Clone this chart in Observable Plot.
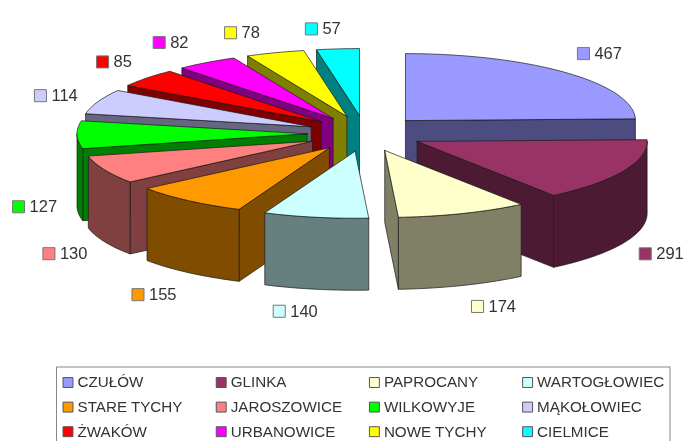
<!DOCTYPE html>
<html>
<head>
<meta charset="utf-8">
<style>
html,body{margin:0;padding:0;background:#fff}
svg{display:block;filter:blur(.6px)}
</style>
<script src="https://cdn.jsdelivr.net/npm/d3@7"></script>
<script src="https://cdn.jsdelivr.net/npm/@observablehq/plot@0.6"></script>
</head>
<body>
<div id="chart"></div>
<script>
const names = ["CZUŁÓW","GLINKA","PAPROCANY","WARTOGŁOWIEC","STARE TYCHY","JAROSZOWICE","WILKOWYJE","MĄKOŁOWIEC","ŻWAKÓW","URBANOWICE","NOWE TYCHY","CIELMICE"];
const values = [467,291,174,140,155,130,127,114,85,82,78,57];
const topColors = ["#9999ff","#993366","#ffffcc","#ccffff","#ff9900","#ff8080","#00ff00","#ccccff","#ff0000","#ff00ff","#ffff00","#00ffff"];
const wallColors = ["#4c4c80","#4d1a33","#808066","#668080","#804d00","#804040","#008000","#666680","#800000","#800080","#808000","#008080"];
const labelOffsetX = [17.5,21.5,14.5,-36.5,-50.5,-55.5,-58.5,-57.5,-44.5,-47.5,-44.5,-26.5];
const labelOffsetY = [-19,11,21,22,22,12,0,-6,-16,-20,-20,-20];
const paintOrder = [0,11,10,9,8,7,6,5,4,3,1,2];

// 3D pie projection
const cx = 364.5, cy = 133, explodeX = 58, explodeY = 18, rx = 230, ry = 67, depth = 72;
const rad = d => d * Math.PI / 180;
const total = d3.sum(values);
let acc = 0;
const slices = values.map((v, i) => {
  const a0 = acc / total * 360; acc += v;
  const a1 = acc / total * 360, mid = (a0 + a1) / 2;
  const ax = cx + explodeX * Math.sin(rad(mid)), ay = cy - explodeY * Math.cos(rad(mid));
  return {i, name: names[i], value: v, a0, a1, mid, ax, ay};
});
const rim = (s, a) => [s.ax + rx * Math.sin(rad(a)), s.ay - ry * Math.cos(rad(a))];
const arc = (s, a, b) => {
  const pts = [], n = Math.max(2, Math.ceil((b - a) / 1.5));
  for (let k = 0; k <= n; k++) pts.push(rim(s, a + (b - a) * k / n));
  return pts;
};
const pts = [];
const pushPoly = (id, ring, fill) => {
  [...ring, ring[0]].forEach(([x, y]) => pts.push({id, x, y, fill}));
};
const drop = p => [p[0], p[1] + depth];
for (const idx of paintOrder) {
  const s = slices[idx], wall = wallColors[idx];
  const apex = [s.ax, s.ay];
  const radial = (a, tag) => {
    const r = rim(s, a);
    pushPoly(idx + tag, [apex, r, drop(r), drop(apex)], wall);
  };
  if (s.a0 > 180) radial(s.a0, "start");
  if (s.a1 < 180) radial(s.a1, "end");
  const lo = Math.max(s.a0, 90), hi = Math.min(s.a1, 270);
  if (hi > lo) {
    const top = arc(s, lo, hi);
    pushPoly(idx + "arc", [...top, ...top.slice().reverse().map(drop)], wall);
  }
  pushPoly(idx + "top", [apex, ...arc(s, s.a0, s.a1)], topColors[idx]);
}

// value labels, anchored on the slice rim
const labels = slices.map((s, i) => {
  const [rxp, ryp] = rim(s, s.mid);
  const front = s.mid > 90 && s.mid < 270;
  return {
    x: rxp + labelOffsetX[i],
    y: ryp + (front ? depth : 0) + labelOffsetY[i],
    value: s.value, top: topColors[i]
  };
});

// legend
const legend = names.map((name, i) => ({
  name, top: topColors[i],
  x: 67.5 + (i % 4) * 153.2,
  y: 382 + Math.floor(i / 4) * 24.6
}));

const plot = Plot.plot({
  width: 686, height: 441,
  margin: 0,
  x: {domain: [0, 686], range: [0, 686], axis: null},
  y: {domain: [0, 441], range: [0, 441], axis: null},
  style: {fontFamily: "'Liberation Sans', Arial, sans-serif", background: "#fff"},
  marks: [
    Plot.line(pts, {x: "x", y: "y", z: "id", fill: "fill", stroke: "#1a1a1a", strokeWidth: 0.7}),
    Plot.dot(labels, {x: "x", y: "y", symbol: "square", r: 6.8, fill: "top", stroke: "#777", strokeWidth: 1}),
    Plot.text(labels, {x: "x", y: "y", text: d => String(d.value), dx: 11, textAnchor: "start", fontSize: 16.5, fill: "#333"}),
    Plot.rect([{}], {x1: () => 56.5, x2: () => 670, y1: () => 367, y2: () => 450, fill: "#fff", stroke: "#888", strokeWidth: 1}),
    Plot.dot(legend, {x: "x", y: "y", symbol: "square", r: 5.6, fill: "top", stroke: "#555", strokeWidth: 1}),
    Plot.text(legend, {x: "x", y: "y", text: "name", dx: 9.5, textAnchor: "start", fontSize: 15.2, fill: "#333"})
  ]
});
document.getElementById("chart").appendChild(plot);
</script>
</body>
</html>
